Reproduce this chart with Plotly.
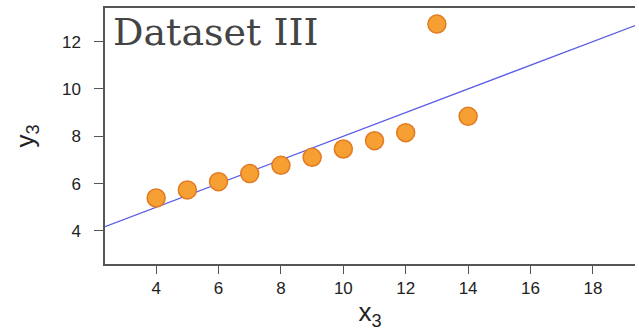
import plotly.graph_objects as go

# Anscombe dataset III
x3 = [10, 8, 13, 9, 11, 14, 6, 4, 12, 7, 5]
y3 = [7.46, 6.77, 12.74, 7.11, 7.81, 8.84, 6.08, 5.39, 8.15, 6.42, 5.73]

# fitted line endpoints
line_x = [2.36, 19.5]
line_y = [4.18, 12.75]

x_ticks = [4, 6, 8, 10, 12, 14, 16, 18]
y_ticks = [4, 6, 8, 10, 12]

fig = go.Figure()
fig.add_trace(go.Scatter(
    x=line_x, y=line_y, mode="lines",
    line=dict(color="#5b5be8", width=1.3),
    hoverinfo="skip", showlegend=False,
))
fig.add_trace(go.Scatter(
    x=x3, y=y3, mode="markers",
    marker=dict(size=18, color="#f6a033", line=dict(color="#e27a22", width=1.5)),
    showlegend=False,
))

fig.add_annotation(
    text="Dataset III", xref="paper", yref="paper", x=0.012, y=1.0,
    xanchor="left", yanchor="top", showarrow=False,
    font=dict(family="DejaVu Serif", size=38, color="#444444"),
)

fig.update_xaxes(
    range=[2.36, 19.35], tickvals=x_ticks, ticktext=[str(v) for v in x_ticks],
    showgrid=False, zeroline=False, showline=True, mirror=True,
    linecolor="#555555", linewidth=1.5, automargin=False,
    ticks="outside", ticklen=8, tickwidth=1.3, tickcolor="#555555",
    tickfont=dict(family="Liberation Sans", size=17, color="#222222"),
    title=dict(text="x<sub>3</sub>", font=dict(family="Liberation Sans", size=26, color="#222222"), standoff=6),
)
fig.update_yaxes(
    range=[2.6, 13.42], tickvals=y_ticks, ticktext=[str(v) for v in y_ticks],
    showgrid=False, zeroline=False, showline=True, mirror=False,
    linecolor="#555555", linewidth=1.5, automargin=False,
    ticks="outside", ticklen=9, tickwidth=1.3, tickcolor="#555555",
    ticklabelstandoff=10,
    tickfont=dict(family="Liberation Sans", size=17, color="#222222"),
    title=dict(text="y<sub>3</sub>", font=dict(family="Liberation Sans", size=26, color="#222222"), standoff=20),
)

fig.update_layout(
    width=639, height=333,
    margin=dict(l=105, r=4, t=8, b=69),
    paper_bgcolor="white", plot_bgcolor="white",
)

fig.write_html(
    "out.html",
    config={"displayModeBar": False},
    post_script="document.body.style.margin='0';document.body.style.overflow='hidden';",
)
